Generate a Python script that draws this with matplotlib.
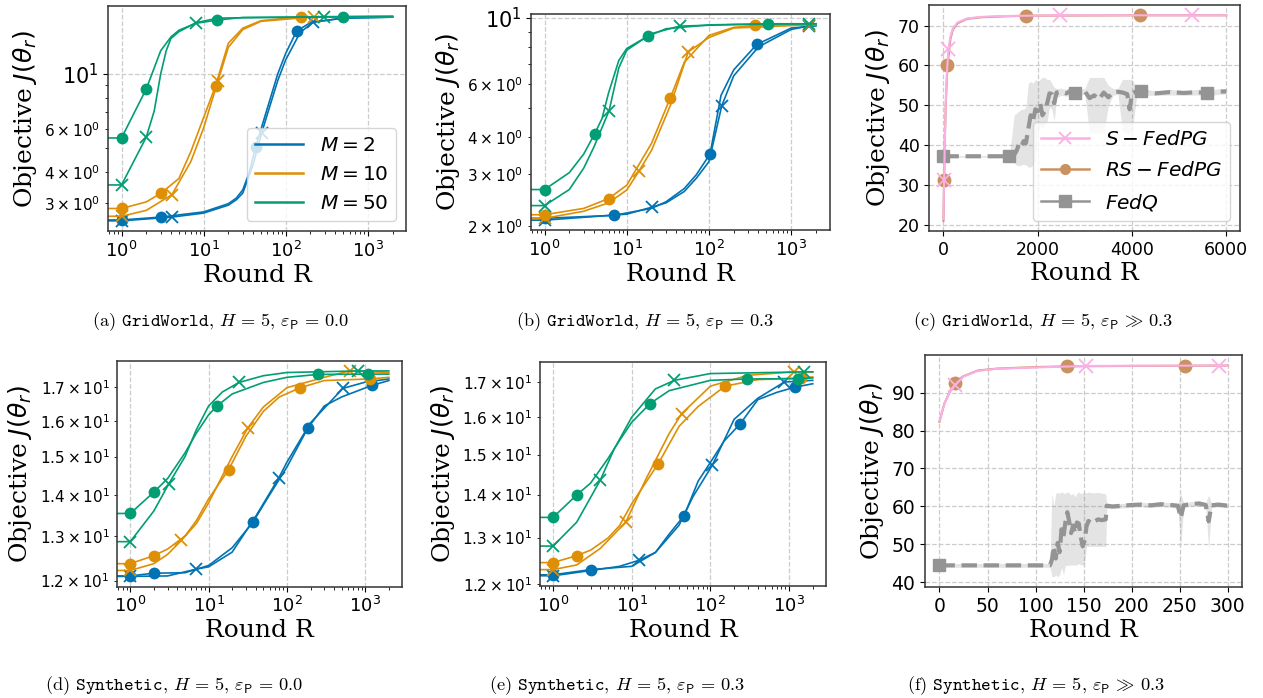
import matplotlib.pyplot as plt
from matplotlib.lines import Line2D
from matplotlib.ticker import MultipleLocator

# ---------------- data ----------------
# each curve: list of (round, objective); *_mk: rounds carrying a marker

# (a) GridWorld, eps = 0.0
a_m2_o = [(0, 2.57), (1, 2.57), (3, 2.64), (10, 2.77), (20, 2.99), (25, 3.15), (30, 3.4), (36, 4.0), (43, 5.07),
          (60, 7.3), (80, 10.0), (100, 12.1), (136, 14.9), (200, 16.1), (500, 16.8), (2000, 16.95)]
a_m2_o_mk = [1, 3, 43, 136]
a_m2_x = [(0, 2.55), (1, 2.55), (4.1, 2.64), (10, 2.74), (20, 2.95), (25, 3.1), (30, 3.3), (40, 4.3), (51, 5.78),
          (60, 6.9), (80, 9.4), (100, 11.4), (150, 14.7), (218, 16.2), (500, 16.8), (2000, 16.95)]
a_m2_x_mk = [1, 4.1, 51, 218]
a_m10_o = [(0, 2.86), (1, 2.86), (2, 3.04), (3, 3.29), (5, 3.78), (7, 4.86), (10, 6.66), (14, 8.96),
           (20, 13.3), (30, 15.3), (50, 16.4), (154, 17.0), (2000, 17.05)]
a_m10_o_mk = [1, 3, 14, 154]
a_m10_x = [(0, 2.66), (1, 2.66), (2, 2.81), (4.1, 3.25), (7, 4.43), (10, 6.05), (15, 9.4), (20, 12.8),
           (30, 15.1), (50, 16.3), (222, 17.0), (2000, 17.05)]
a_m10_x_mk = [1, 4.1, 15, 222]
a_m50_o = [(0, 5.51), (1, 5.51), (2, 8.69), (3, 12.4), (4, 14.1), (5, 15.0), (8, 16.0), (14.7, 16.5),
           (30, 16.9), (499, 17.0), (2000, 17.05)]
a_m50_o_mk = [1, 2, 14.7, 499]
a_m50_x = [(0, 3.56), (1, 3.56), (2, 5.55), (2.5, 7.08), (3, 10.0), (3.5, 12.4), (4, 13.9), (5, 14.8),
           (8.1, 16.1), (15, 16.8), (289, 17.0), (2000, 17.05)]
a_m50_x_mk = [1, 2, 8.1, 289]

# (b) GridWorld, eps = 0.3
b_m2_o = [(0, 2.13), (1, 2.13), (7, 2.18), (10, 2.22), (20, 2.3), (30, 2.42), (50, 2.68), (70, 2.98),
          (103, 3.5), (140, 5.5), (200, 6.7), (381, 8.15), (1000, 9.25), (2000, 9.42)]
b_m2_o_mk = [1, 7, 103, 381]
b_m2_x = [(0, 2.1), (1, 2.1), (10, 2.2), (20, 2.32), (30, 2.4), (50, 2.62), (70, 2.9), (100, 3.3),
          (143, 5.08), (200, 6.4), (400, 8.0), (1000, 9.15), (1630, 9.4), (2000, 9.42)]
b_m2_x_mk = [1, 20, 143, 1630]
b_m10_o = [(0, 2.19), (1, 2.19), (3, 2.3), (6, 2.48), (10, 2.75), (20, 3.8), (34, 5.41), (50, 7.1),
           (100, 8.74), (200, 9.3), (364, 9.44), (2000, 9.5)]
b_m10_o_mk = [1, 6, 34, 364]
b_m10_x = [(0, 2.13), (1, 2.13), (3, 2.25), (6, 2.4), (10, 2.65), (14, 3.06), (20, 3.6), (34, 5.1),
           (56, 7.7), (100, 8.6), (200, 9.25), (1630, 9.48), (2000, 9.5)]
b_m10_x_mk = [1, 14, 56, 1630]
b_m50_o = [(0, 2.66), (1, 2.66), (2, 3.03), (3, 3.5), (4.07, 4.09), (5, 4.6), (6, 5.6), (8, 7.2),
           (10, 7.9), (18, 8.68), (30, 9.2), (100, 9.48), (528, 9.56), (2000, 9.56)]
b_m50_o_mk = [1, 4.07, 18, 528]
b_m50_x = [(0, 2.35), (1, 2.35), (2, 2.66), (3, 3.14), (4, 3.7), (6.1, 4.89), (8, 6.8), (10, 7.8),
           (20, 8.86), (44, 9.39), (200, 9.5), (1630, 9.56), (2000, 9.56)]
b_m50_x_mk = [1, 6.1, 44, 1630]

# (d) Synthetic, eps = 0.0
d_m2_o = [(0, 12.1), (1, 12.1), (2, 12.16), (5, 12.17), (10, 12.33), (20, 12.73), (36.8, 13.33),
          (60, 14.0), (100, 14.72), (185, 15.79), (300, 16.43), (500, 16.7), (1217, 17.05), (2000, 17.2)]
d_m2_o_mk = [1, 2, 36.8, 185, 1217]
d_m2_x = [(0, 12.09), (1, 12.09), (3, 12.1), (7, 12.25), (10, 12.3), (20, 12.63), (40, 13.47),
          (79, 14.44), (100, 14.85), (200, 15.94), (519, 16.96), (1000, 17.15), (2000, 17.25)]
d_m2_x_mk = [1, 7, 79, 519]
d_m10_o = [(0, 12.37), (1, 12.37), (2, 12.55), (3, 12.7), (5, 13.0), (7, 13.37), (10, 13.9), (18, 14.65),
           (30, 15.56), (50, 16.27), (80, 16.7), (148, 16.98), (300, 17.2), (1159, 17.25), (2000, 17.3)]
d_m10_o_mk = [1, 2, 18, 148, 1159]
d_m10_x = [(0, 12.22), (1, 12.22), (2, 12.37), (3, 12.58), (4.5, 12.9), (7, 13.3), (10, 13.8), (20, 15.0),
           (31.8, 15.8), (50, 16.4), (100, 16.98), (300, 17.3), (631, 17.5), (2000, 17.45)]
d_m10_x_mk = [1, 4.5, 31.8, 631]
d_m50_o = [(0, 13.54), (1, 13.54), (2, 14.07), (3, 14.42), (5, 15.1), (7, 15.65), (10, 16.17), (12.8, 16.43),
           (20, 16.79), (50, 17.14), (100, 17.3), (249, 17.39), (1082, 17.4), (2000, 17.4)]
d_m50_o_mk = [1, 2, 12.8, 249, 1082]
d_m50_x = [(0, 12.87), (1, 12.87), (2, 13.6), (3.1, 14.28), (5, 15.0), (7, 15.75), (10, 16.43), (15, 16.85),
           (24.4, 17.14), (50, 17.35), (100, 17.45), (806, 17.5), (2000, 17.5)]
d_m50_x_mk = [1, 3.1, 24.4, 806]

# (e) Synthetic, eps = 0.3
e_m2_o = [(0, 12.19), (1, 12.19), (3, 12.3), (10, 12.37), (20, 12.67), (30, 13.08), (46.3, 13.5),
          (70, 14.33), (100, 14.8), (150, 15.36), (240, 15.82), (400, 16.49), (700, 16.7), (1183, 16.85),
          (2000, 16.95)]
e_m2_o_mk = [1, 3, 46.3, 240, 1183]
e_m2_x = [(0, 12.17), (1, 12.17), (3, 12.28), (7, 12.37), (12.4, 12.5), (20, 12.67), (40, 13.28),
          (60, 13.95), (106, 14.73), (200, 15.94), (400, 16.53), (872, 17.0), (2000, 17.05)]
e_m2_x_mk = [1, 12.4, 106, 872]
e_m10_o = [(0, 12.45), (1, 12.45), (2, 12.6), (3, 12.72), (5, 12.99), (7, 13.27), (10, 13.78), (21.8, 14.77),
           (40, 15.75), (70, 16.3), (154, 16.88), (400, 17.07), (1400, 17.12), (2000, 17.15)]
e_m10_o_mk = [1, 2, 21.8, 154, 1400]
e_m10_x = [(0, 12.3), (1, 12.3), (2, 12.4), (4, 12.76), (8.4, 13.35), (15, 14.36), (30, 15.56), (43.3, 16.1),
           (100, 16.88), (300, 17.2), (1148, 17.3), (2000, 17.3)]
e_m10_x_mk = [1, 8.4, 43.3, 1148]
e_m50_o = [(0, 13.46), (1, 13.46), (2, 13.99), (3, 14.28), (5, 14.9), (7, 15.37), (10, 15.86), (17.1, 16.38),
           (30, 16.75), (100, 17.05), (292, 17.09), (1304, 17.1), (2000, 17.12)]
e_m50_o_mk = [1, 2, 17.1, 292, 1304]
e_m50_x = [(0, 12.81), (1, 12.81), (2, 13.35), (3, 13.93), (4, 14.36), (6, 15.15), (10, 16.0), (20, 16.8),
           (34.9, 17.05), (100, 17.25), (1540, 17.3), (2000, 17.3)]
e_m50_x_mk = [1, 4, 34.9, 1540]

# (c) GridWorld, eps >> 0.3
c_s_R = [0, 14, 30, 50, 75, 106, 150, 200, 300, 500, 800, 1200, 2470, 5270, 6000]
c_s_J = [21.4, 31.3, 42, 51, 58.5, 64.1, 67.3, 69.3, 70.8, 71.8, 72.2, 72.4, 72.6, 72.6, 72.6]
c_s_mk = [14, 106, 2470, 5270]
c_rs_R = [0, 14, 30, 50, 85, 150, 200, 300, 500, 800, 1200, 1745, 4180, 6000]
c_rs_J = [21, 31.3, 41.5, 50.5, 60, 66.8, 69, 70.6, 71.7, 72.1, 72.3, 72.5, 72.6, 72.6]
c_rs_mk = [14, 85, 1745, 4180]
c_q_R = [0, 1400, 1500, 1550, 1600, 1650, 1700, 1750, 1800, 1850,
         1900, 1950, 2000, 2050, 2100, 2150, 2200, 2250, 2300, 2350,
         2400, 2500, 2600, 2700, 2800, 2900, 3000, 3100, 3200, 3300,
         3400, 3500, 3600, 3700, 3800, 3900, 3950, 4000, 4100, 4200,
         4300, 4500, 4800, 5100, 5400, 5600, 5800, 6000]
c_q_J = [37.2, 37.2, 37.6, 38.5, 40.2, 39.5, 41.0, 40.5, 44.0, 47.5,
         46.0, 49.0, 48.5, 50.5, 47.5, 48.5, 50.5, 53.0, 52.8, 50.5,
         53.2, 53.4, 53.0, 53.6, 53.0, 53.3, 53.5, 51.8, 52.5, 51.5,
         53.2, 52.0, 53.3, 53.4, 53.2, 52.8, 49.0, 53.0, 53.5, 53.6,
         53.2, 53.0, 53.3, 53.1, 53.3, 53.0, 53.4, 53.5]
c_q_lo = [37.0, 37.0, 35.5, 35.0, 34.8, 35.0, 35.2, 35.0, 34.5, 34.5,
          35.0, 36.0, 43.0, 45.0, 44.0, 45.5, 46.0, 49.5, 49.0, 46.0,
          52.0, 52.5, 52.3, 52.5, 52.5, 52.6, 52.8, 43.0, 43.0, 43.0,
          43.0, 50.0, 52.5, 52.8, 43.5, 43.0, 43.0, 43.0, 52.5, 52.5,
          52.5, 52.5, 52.6, 52.5, 52.6, 52.3, 52.7, 52.8]
c_q_hi = [37.4, 37.4, 47.5, 48.0, 48.5, 49.0, 49.0, 49.5, 55.5, 56.0,
          55.5, 56.5, 56.0, 56.5, 57.0, 57.0, 56.5, 56.5, 55.5, 54.5,
          54.2, 54.3, 54.0, 54.7, 53.8, 54.0, 54.2, 57.0, 57.0, 57.0,
          57.0, 55.0, 54.2, 54.2, 56.5, 56.5, 56.5, 56.5, 54.5, 54.6,
          54.0, 53.6, 54.0, 53.7, 54.0, 53.7, 54.1, 54.2]
c_q_mk = [0, 1400, 2800, 4200, 5600]

# (f) Synthetic, eps >> 0.3
f_s_R = [0, 5, 10, 16.5, 25, 40, 60, 100, 152.8, 200, 290.7, 300]
f_s_J = [82.5, 87, 89.7, 92.0, 94.2, 95.7, 96.25, 96.6, 97.0, 97.05, 97.1, 97.1]
f_s_mk = [16.5, 152.8, 290.7]
f_rs_R = [0, 5, 10, 15.9, 25, 40, 60, 100, 133, 200, 255, 300]
f_rs_J = [82.3, 87, 89.8, 92.6, 94.3, 95.8, 96.3, 96.7, 96.9, 97.0, 97.05, 97.1]
f_rs_mk = [15.9, 133, 255]
f_q_R = [0, 115, 117, 119, 121, 123, 125, 127, 129, 131,
         133, 135, 137, 139, 141, 143, 145, 147, 149, 151,
         153, 155, 158, 161, 165, 169, 173, 174, 180, 190,
         200, 210, 220, 230, 240, 248, 251, 254, 260, 270,
         277, 280, 283, 290, 300]
f_q_J = [44.5, 44.5, 46.0, 49.5, 46.3, 50.4, 48.0, 54.0, 52.0, 55.8,
         58.5, 56.0, 53.0, 55.0, 53.0, 55.8, 55.5, 52.0, 49.5, 51.0,
         54.8, 56.2, 55.5, 56.0, 56.6, 56.4, 56.6, 60.2, 60.0, 60.2,
         60.4, 60.5, 60.3, 60.6, 60.4, 60.2, 57.0, 60.3, 60.6, 60.8,
         60.4, 56.1, 60.3, 60.5, 60.2]
f_q_lo = [44.0, 44.0, 41.5, 41.5, 42.0, 41.5, 42.0, 44.0, 42.0, 44.5,
          44.5, 44.5, 44.6, 44.6, 44.6, 44.6, 45.0, 44.6, 44.6, 45.0,
          49.5, 49.5, 49.5, 49.5, 49.5, 49.5, 49.5, 59.5, 59.4, 59.6,
          59.8, 59.9, 59.7, 60.0, 59.8, 59.6, 49.5, 59.7, 60.0, 60.2,
          59.8, 49.0, 59.7, 59.9, 59.6]
f_q_hi = [45.0, 45.0, 63.5, 60.0, 63.5, 63.7, 63.5, 63.9, 63.5, 63.5,
          63.9, 63.5, 63.0, 63.5, 62.5, 63.5, 63.8, 63.4, 63.5, 63.6,
          63.6, 63.8, 63.6, 63.6, 63.7, 63.5, 63.3, 60.9, 60.6, 60.8,
          61.0, 61.1, 60.9, 61.2, 61.0, 60.8, 63.4, 60.9, 61.2, 61.4,
          61.0, 63.0, 60.9, 61.1, 60.8]
f_q_mk = [0]

m_labels = [r'$M=2$', r'$M=10$', r'$M=50$']
alg_labels = [r'$S-FedPG$', r'$RS-FedPG$', r'$FedQ$']
captions = [r'(a) $\mathtt{GridWorld}$, $H\,=\,5$, $\varepsilon_{\mathsf{P}}\,=\,0.0$',
            r'(b) $\mathtt{GridWorld}$, $H\,=\,5$, $\varepsilon_{\mathsf{P}}\,=\,0.3$',
            r'(c) $\mathtt{GridWorld}$, $H\,=\,5$, $\varepsilon_{\mathsf{P}}\,\gg\,0.3$',
            r'(d) $\mathtt{Synthetic}$, $H\,=\,5$, $\varepsilon_{\mathsf{P}}\,=\,0.0$',
            r'(e) $\mathtt{Synthetic}$, $H\,=\,5$, $\varepsilon_{\mathsf{P}}\,=\,0.3$',
            r'(f) $\mathtt{Synthetic}$, $H\,=\,5$, $\varepsilon_{\mathsf{P}}\,\gg\,0.3$']

BLUE, ORANGE, GREEN = '#0173b2', '#de8f05', '#029e73'
PINK, BROWN, GRAY = '#fbafe4', '#ca9161', '#949494'


def idx_of(xs, mk):
    return [i for i, x in enumerate(xs) if x in mk]


def style(ax, tick_x=13, tick_y=13):
    for s in ax.spines.values():
        s.set_color('#333333')
        s.set_linewidth(1.1)
    ax.grid(True, which='major', ls='--', color='#cccccc', lw=0.9)
    ax.set_axisbelow(True)
    ax.tick_params(axis='x', which='major', labelsize=tick_x)
    ax.tick_params(axis='y', which='major', labelsize=tick_y)
    ax.set_xlabel('Round R', fontsize=18, family='DejaVu Serif', labelpad=2)
    ax.set_ylabel(r'Objective $J(\theta_r)$', fontsize=18, family='DejaVu Serif', labelpad=4)


def log_panel(ax, curves):
    ax.set_xscale('log')
    ax.set_yscale('log')
    cols = [BLUE, BLUE, ORANGE, ORANGE, GREEN, GREEN]
    for k, (pts, mk) in enumerate(curves):
        xs = [p[0] for p in pts]
        ys = [p[1] for p in pts]
        if k % 2 == 0:
            ax.plot(xs, ys, color=cols[k], lw=1.2, marker='o', ms=8.5, mew=0,
                    markevery=idx_of(xs, mk))
        else:
            ax.plot(xs, ys, color=cols[k], lw=1.2, marker='x', ms=9, mew=1.3,
                    markevery=idx_of(xs, mk))
    style(ax, tick_x=13, tick_y=15)
    ax.tick_params(axis='y', which='minor', labelsize=11)


def lin_panel(ax, s_R, s_J, s_mk, rs_R, rs_J, rs_mk, q_R, q_J, q_lo, q_hi, q_mk, ts):
    ax.fill_between(q_R, q_lo, q_hi, color=GRAY, alpha=0.25, lw=0)
    ax.plot(q_R, q_J, color=GRAY, lw=3, ls='--', marker='s', ms=9,
            markevery=idx_of(q_R, q_mk))
    ax.plot(rs_R, rs_J, color=BROWN, lw=1.5, marker='o', ms=10, mew=0,
            markevery=idx_of(rs_R, rs_mk))
    ax.plot(s_R, s_J, color=PINK, lw=1.5, marker='x', ms=10, mew=1.3,
            markevery=idx_of(s_R, s_mk))
    style(ax, tick_x=ts, tick_y=ts)
    ax.yaxis.set_major_locator(MultipleLocator(10))


fig = plt.figure(figsize=(12.63, 6.98), dpi=100)
ax_a = fig.add_axes([0.0855, 0.669, 0.236, 0.322])
ax_b = fig.add_axes([0.4204, 0.6705, 0.2364, 0.3095])
ax_c = fig.add_axes([0.7358, 0.669, 0.2463, 0.3238])
ax_d = fig.add_axes([0.0929, 0.1595, 0.2252, 0.3238])
ax_e = fig.add_axes([0.4276, 0.1605, 0.2262, 0.3213])
ax_f = fig.add_axes([0.7324, 0.1586, 0.2512, 0.3328])

log_panel(ax_a, [(a_m2_o, a_m2_o_mk), (a_m2_x, a_m2_x_mk), (a_m10_o, a_m10_o_mk),
                 (a_m10_x, a_m10_x_mk), (a_m50_o, a_m50_o_mk), (a_m50_x, a_m50_x_mk)])
log_panel(ax_b, [(b_m2_o, b_m2_o_mk), (b_m2_x, b_m2_x_mk), (b_m10_o, b_m10_o_mk),
                 (b_m10_x, b_m10_x_mk), (b_m50_o, b_m50_o_mk), (b_m50_x, b_m50_x_mk)])
log_panel(ax_d, [(d_m2_o, d_m2_o_mk), (d_m2_x, d_m2_x_mk), (d_m10_o, d_m10_o_mk),
                 (d_m10_x, d_m10_x_mk), (d_m50_o, d_m50_o_mk), (d_m50_x, d_m50_x_mk)])
log_panel(ax_e, [(e_m2_o, e_m2_o_mk), (e_m2_x, e_m2_x_mk), (e_m10_o, e_m10_o_mk),
                 (e_m10_x, e_m10_x_mk), (e_m50_o, e_m50_o_mk), (e_m50_x, e_m50_x_mk)])

lin_panel(ax_c, c_s_R, c_s_J, c_s_mk, c_rs_R, c_rs_J, c_rs_mk,
          c_q_R, c_q_J, c_q_lo, c_q_hi, c_q_mk, 12.5)
lin_panel(ax_f, f_s_R, f_s_J, f_s_mk, f_rs_R, f_rs_J, f_rs_mk,
          f_q_R, f_q_J, f_q_lo, f_q_hi, f_q_mk, 13.5)
ax_c.set_xticks([0, 2000, 4000, 6000])
ax_f.set_xticks([0, 50, 100, 150, 200, 250, 300])

# legends
h_m = [Line2D([], [], color=c, lw=1.8) for c in (BLUE, ORANGE, GREEN)]
ax_a.legend(h_m, m_labels, loc='lower right', fontsize=14.5, handlelength=2.4)
h_alg = [Line2D([], [], color=PINK, lw=1.8, marker='x', ms=9, mew=1.3),
         Line2D([], [], color=BROWN, lw=1.8, marker='o', ms=8, mew=0),
         Line2D([], [], color=GRAY, lw=1.8, marker='s', ms=8)]
ax_c.legend(h_alg, alg_labels, loc='lower right', fontsize=14.5, handlelength=2.4,
            labelspacing=0.6)

# captions
cap_pos = [(221, 322), (645, 322), (1043, 322), (174, 686), (617, 686), (1036, 686)]
for (px, py), cap in zip(cap_pos, captions):
    fig.text(px / 1263, 1 - py / 698, cap, ha='center', va='center', fontsize=13.2,
             family='cmr10', math_fontfamily='cm')

fig.savefig('out.png', dpi=100)
